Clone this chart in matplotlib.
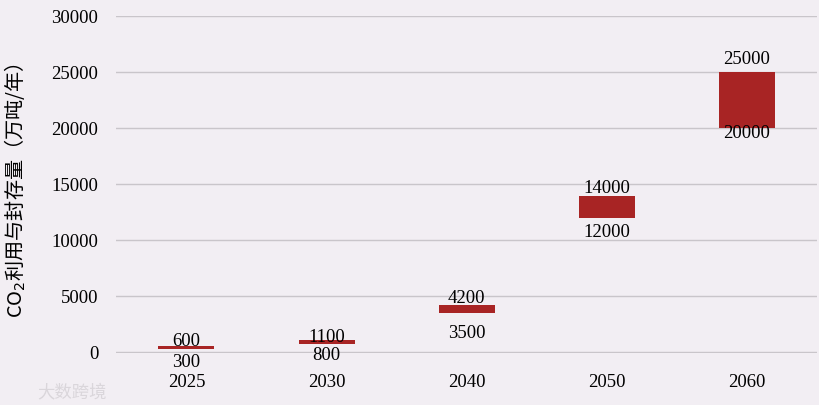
import matplotlib
matplotlib.use("Agg")
import matplotlib.pyplot as plt
import numpy as np

years = ["2025", "2030", "2040", "2050", "2060"]
low = [300, 800, 3500, 12000, 20000]
high = [600, 1100, 4200, 14000, 25000]
yticks = [0, 5000, 10000, 15000, 20000, 25000, 30000]

# label gaps from the bar edges, in pixels (as placed in the original)
top_gap = [0, -2, 2, 3, 8]
bottom_gap = [3, 1, 10, 4, -5]

bg = "#f2eef3"
bar_color = "#a82424"
serif = "Liberation Serif"
fs = 13.5

fig = plt.figure(figsize=(8.2, 4.05), dpi=100, facecolor=bg)
ax = fig.add_axes([0.142, 0.128, 0.854, 0.832], facecolor=bg)

x = np.arange(len(years))
ax.bar(x, np.array(high) - np.array(low), bottom=low, width=0.4, color=bar_color, zorder=3)

# value labels above and below each bar
for xi, lo, hi, tg, bgap in zip(x, low, high, top_gap, bottom_gap):
    ax.annotate(str(hi), (xi, hi), xytext=(0, tg * 0.72), textcoords="offset points",
                ha="center", va="baseline", family=serif, fontsize=fs, zorder=4)
    ax.annotate(str(lo), (xi, lo), xytext=(0, -(bgap + 2) * 0.72), textcoords="offset points",
                ha="center", va="top", family=serif, fontsize=fs, zorder=4)

ax.set_xlim(-0.5, 4.5)
ax.set_ylim(-60, 30000)
ax.set_xticks(x)
ax.set_xticklabels(years, family=serif, fontsize=fs)
ax.set_yticks(yticks)
ax.set_yticklabels([str(v) for v in yticks], family=serif, fontsize=fs)
ax.tick_params(length=0)
ax.tick_params(axis="x", pad=15)
ax.tick_params(axis="y", pad=13)
ax.grid(axis="y", color="#c9c5ca", linewidth=1, zorder=0)
for s in ax.spines.values():
    s.set_visible(False)

ax.set_ylabel("CO$_2$利用与封存量（万吨/年）", family=["Noto Sans CJK SC", "DejaVu Sans"],
              fontsize=14.5)
ax.yaxis.set_label_coords(-0.127, 0.484)

fig.text(0.045, 0.02, "大数跨境", family=["Noto Sans CJK SC", "DejaVu Sans"], fontsize=12.5,
         color="#dad6db")

fig.savefig("out.png", dpi=100, facecolor=bg)
